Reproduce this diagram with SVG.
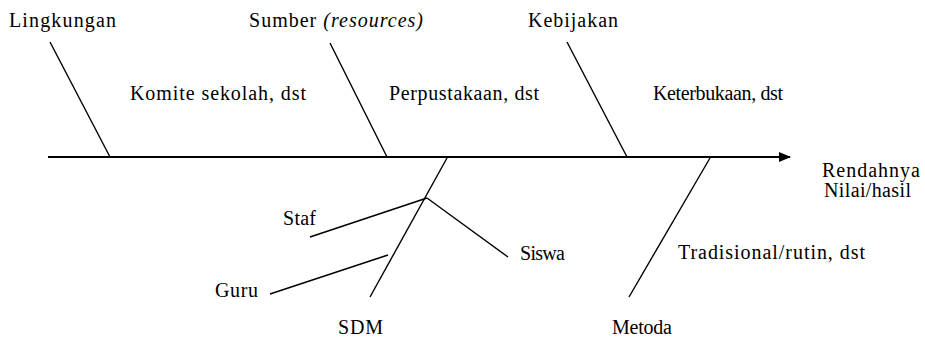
<svg xmlns="http://www.w3.org/2000/svg" width="925" height="338" viewBox="0 0 925 338">
<style>
text{font-family:"Liberation Serif","Times New Roman",serif;font-size:20px;fill:#000}
.l{stroke:#000;stroke-width:1.4;fill:none}
.spine{stroke:#000;stroke-width:2.2;fill:none}
</style>
<defs>
<marker id="ah" markerWidth="12" markerHeight="10" refX="11" refY="5" orient="auto" markerUnits="userSpaceOnUse">
<path d="M0,0 L12,5 L0,10 Z" fill="#000"/>
</marker>
</defs>
<rect width="925" height="338" fill="#fff"/>
<g id="connectors">
<line class="spine" x1="48" y1="157" x2="790" y2="157" marker-end="url(#ah)"/>
<line class="l" x1="50" y1="42" x2="110" y2="157"/>
<line class="l" x1="330" y1="43" x2="387" y2="157"/>
<line class="l" x1="567" y1="42" x2="627" y2="157"/>
<line class="l" x1="447" y1="158" x2="370" y2="297"/>
<line class="l" x1="310" y1="237" x2="427" y2="198"/>
<line class="l" x1="427" y1="198" x2="508" y2="257"/>
<line class="l" x1="270" y1="294" x2="388" y2="255"/>
<line class="l" x1="710" y1="158" x2="629" y2="297"/>
</g>
<g id="lingkungan"><text x="9" y="27" textLength="107" lengthAdjust="spacing">Lingkungan</text><text x="130" y="100" textLength="176" lengthAdjust="spacing">Komite sekolah, dst</text></g>
<g id="sumber"><text x="249" y="27" textLength="174" lengthAdjust="spacing">Sumber <tspan font-style="italic">(resources)</tspan></text><text x="389" y="100" textLength="150" lengthAdjust="spacing">Perpustakaan, dst</text></g>
<g id="kebijakan"><text x="528" y="27" textLength="90" lengthAdjust="spacing">Kebijakan</text><text x="653" y="100" textLength="130" lengthAdjust="spacing">Keterbukaan, dst</text></g>
<g id="result"><text x="822" y="177" textLength="98" lengthAdjust="spacing">Rendahnya</text><text x="824" y="197" textLength="87" lengthAdjust="spacing">Nilai/hasil</text></g>
<g id="sdm"><text x="338" y="334" textLength="45" lengthAdjust="spacing">SDM</text><text x="283" y="225" textLength="33" lengthAdjust="spacing">Staf</text><text x="520" y="260" textLength="45" lengthAdjust="spacing">Siswa</text><text x="215" y="297" textLength="43" lengthAdjust="spacing">Guru</text></g>
<g id="metoda"><text x="612" y="334" textLength="60" lengthAdjust="spacing">Metoda</text><text x="678" y="259" textLength="187" lengthAdjust="spacing">Tradisional/rutin, dst</text></g>
</svg>
